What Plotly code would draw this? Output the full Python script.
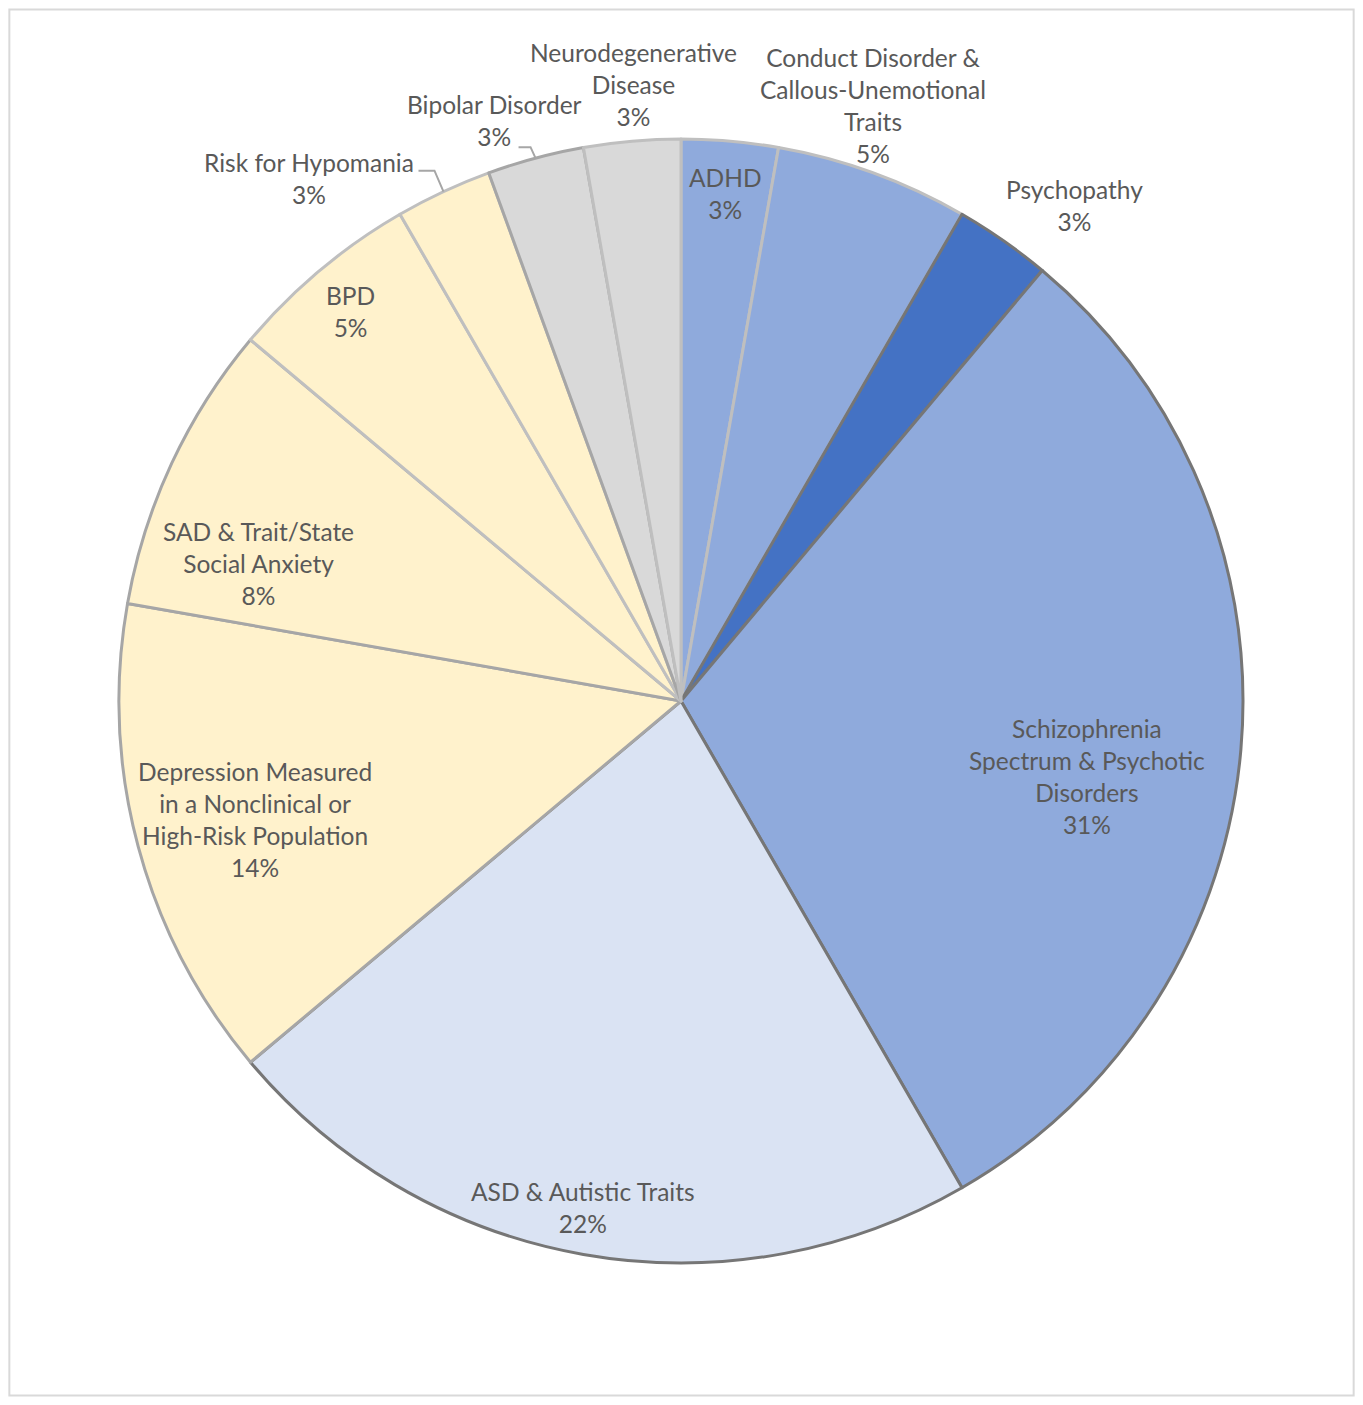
import math
import plotly.graph_objects as go

# studies per category (36 in total)
categories = ["ADHD", "Conduct Disorder & Callous-Unemotional Traits", "Psychopathy",
              "Schizophrenia Spectrum & Psychotic Disorders", "ASD & Autistic Traits",
              "Depression Measured in a Nonclinical or High-Risk Population",
              "SAD & Trait/State Social Anxiety", "BPD", "Risk for Hypomania",
              "Bipolar Disorder", "Neurodegenerative Disease"]
counts = [1, 2, 1, 11, 8, 5, 3, 2, 1, 1, 1]
pct_labels = ["3%", "5%", "3%", "31%", "22%", "14%", "8%", "5%", "3%", "3%", "3%"]
label_text = ["ADHD", "Conduct Disorder &<br>Callous-Unemotional<br>Traits", "Psychopathy",
              "Schizophrenia<br>Spectrum & Psychotic<br>Disorders", "ASD & Autistic Traits",
              "Depression Measured<br>in a Nonclinical or<br>High-Risk Population",
              "SAD & Trait/State<br>Social Anxiety", "BPD", "Risk for Hypomania",
              "Bipolar Disorder", "Neurodegenerative<br>Disease"]

colors = ["#8FAADC", "#8FAADC", "#4472C4", "#8FAADC", "#DAE3F3",
          "#FFF2CC", "#FFF2CC", "#FFF2CC", "#FFF2CC", "#D9D9D9", "#D9D9D9"]
edge = ["#BFBFBF", "#BFBFBF", "#767676", "#767676", "#767676",
        "#A6A6A6", "#A6A6A6", "#BFBFBF", "#BFBFBF", "#A6A6A6", "#BFBFBF"]

# page has an 8px body margin, so the figure is drawn 16px smaller
W, H = 1347, 1389
cx, cy, R = 673, 693, 562

# label placement: fraction of radius, angle nudge (deg)
lab_r = [0.907, 1.114, 1.126, 0.735, 0.918, 0.787, 0.79, 0.908, 1.141, 1.084, 1.101]
lab_da = [0, -2.1, 3.5, 5.5, 1, -0.6, -7, -0.3, -10.5, -2.8, 0.6]
# leader lines (elbow and end offsets in px from slice edge point)
leaders = {8: [(-9, -21), (-25, -21)], 9: [(-5, -11), (-17, -11)]}

fig = go.Figure()
fig.add_trace(go.Pie(
    labels=categories,
    values=counts,
    sort=False,
    direction="clockwise",
    rotation=0,
    textinfo="none",
    hoverinfo="label+percent",
    marker=dict(colors=colors, line=dict(color=edge, width=3)),
    domain=dict(x=[(cx - R) / W, (cx + R) / W], y=[1 - (cy + R) / H, 1 - (cy - R) / H]),
    showlegend=False,
))

total = sum(counts)
cum = 0
annotations = []
shapes = []
for i, v in enumerate(counts):
    mid = (cum + v / 2) / total * 360
    cum += v
    a = math.radians(mid + lab_da[i])
    px = cx + lab_r[i] * R * math.sin(a)
    py = cy - lab_r[i] * R * math.cos(a)
    annotations.append(dict(
        x=px / W, y=1 - py / H, xref="paper", yref="paper",
        xanchor="center", yanchor="middle",
        text=label_text[i] + "<br>" + pct_labels[i], showarrow=False,
        font=dict(family="Lato", size=24.5, color="#595959"),
    ))
    if i in leaders:
        m = math.radians(mid)
        ex = cx + R * math.sin(m)
        ey = cy - R * math.cos(m)
        pts = [(ex, ey)] + [(ex + dx, ey + dy) for dx, dy in leaders[i]]
        path = "M " + " L ".join("%f,%f" % (x / W, 1 - y / H) for x, y in pts)
        shapes.append(dict(type="path", path=path, xref="paper", yref="paper",
                           line=dict(color="#A6A6A6", width=2)))

# outer frame
shapes.append(dict(type="rect", xref="paper", yref="paper", x0=0.001, y0=0.001,
                   x1=0.999, y1=0.999, line=dict(color="#D9D9D9", width=2)))

fig.update_layout(
    width=W, height=H,
    margin=dict(l=0, r=0, t=0, b=0),
    paper_bgcolor="white",
    plot_bgcolor="white",
    annotations=annotations,
    shapes=shapes,
)

fig.write_html("out.html")
